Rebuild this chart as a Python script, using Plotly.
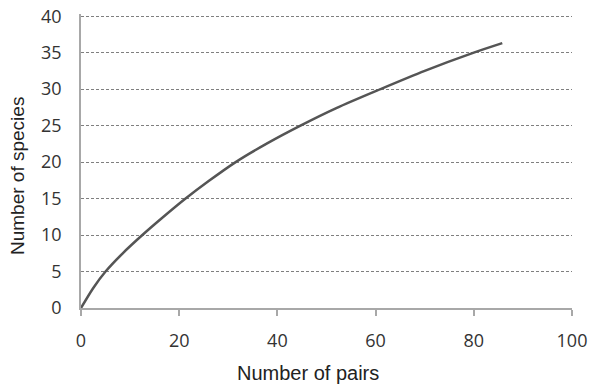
import plotly.graph_objects as go

# Data
pairs = [0, 2.5, 5, 8.5, 12.5, 16.8, 21.3, 26, 31.5, 38, 44.7, 52, 61, 70, 80, 85.8]
species = [0, 2.75, 5, 7.5, 10, 12.5, 15, 17.4, 20, 22.6, 25, 27.4, 30, 32.5, 35, 36.3]

x_ticks = [0, 20, 40, 60, 80, 100]
y_ticks = [0, 5, 10, 15, 20, 25, 30, 35, 40]

x_title = "Number of pairs"
y_title = "Number of species"

fig = go.Figure()
fig.add_trace(go.Scatter(
    x=pairs, y=species, mode="lines",
    line=dict(color="#555555", width=2.5, shape="spline", smoothing=0.8),
    showlegend=False, hoverinfo="skip",
))

tick_font = dict(family="Open Sans, sans-serif", size=18, color="#333333")

fig.update_layout(
    width=590, height=387,
    margin=dict(l=81, r=18, t=14, b=79),
    paper_bgcolor="white", plot_bgcolor="white",
    xaxis=dict(
        range=[0, 100], tickvals=x_ticks, ticktext=[str(v) for v in x_ticks],
        showgrid=False, zeroline=False, automargin=False,
        showline=True, linecolor="#a8a8a8", linewidth=1.5,
        ticks="outside", ticklen=6, tickcolor="#a8a8a8", tickwidth=1.5,
        ticklabelstandoff=10,
        tickfont=tick_font, fixedrange=True,
    ),
    yaxis=dict(
        range=[0, 40.3], tickvals=y_ticks, ticktext=[str(v) for v in y_ticks],
        showgrid=True, gridcolor="#7f7f7f", gridwidth=1, griddash="3px,2px",
        zeroline=False, automargin=False,
        showline=True, linecolor="#a8a8a8", linewidth=1.5,
        ticks="", ticklabelstandoff=14,
        tickfont=tick_font, fixedrange=True,
    ),
    annotations=[
        dict(text=x_title, xref="paper", yref="paper",
             x=(308 - 81) / (572 - 81), y=-(373 - 308) / (308 - 14),
             xanchor="center", yanchor="middle", showarrow=False,
             font=dict(family="Liberation Sans, Arial, sans-serif", size=20, color="#222222")),
        dict(text=y_title, xref="paper", yref="paper",
             x=-(81 - 18) / (572 - 81), y=(308 - 176) / (308 - 14),
             xanchor="center", yanchor="middle", showarrow=False, textangle=-90,
             font=dict(family="Liberation Sans, Arial, sans-serif", size=19, color="#222222")),
    ],
)

fig.write_html("out.html")
